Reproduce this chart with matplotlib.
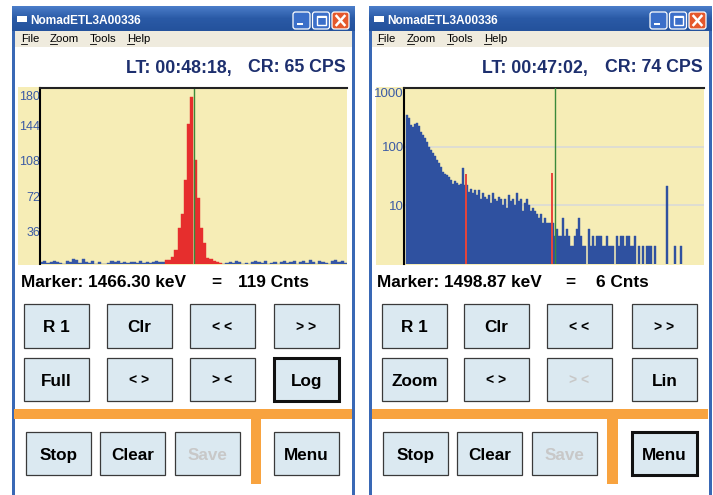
import numpy as np
import matplotlib
matplotlib.use('Agg')
import matplotlib.pyplot as plt
import matplotlib.transforms as mtransforms
from matplotlib.patches import Rectangle, FancyBboxPatch

plt.rcParams['font.family'] = ['Liberation Sans', 'DejaVu Sans']

title_text = 'NomadETL3A00336'
menu_items = ['File', 'Zoom', 'Tools', 'Help']

# left screen: linear scale, 96 channels shown
left_counts = [2, 3, 1, 2, 3, 2, 1,
               0,
               3, 2, 5, 4, 1, 5, 2,
               1, 3, 0, 2,
               0, 0, 1,
               3, 2, 3, 1, 2,
               1, 2, 2, 1, 3, 1, 2, 1, 2, 3, 2, 2,
               4, 4, 7, 14, 37, 51, 86, 143, 171, 106, 67, 37, 21, 6, 5, 3, 2, 1,
               0, 1, 2, 1, 3, 2, 0, 1, 0, 2,
               3, 2, 1, 3, 0, 1, 2, 0, 2, 3, 1, 2, 3,
               0, 2, 3, 1, 4, 2, 0, 3, 2, 1, 0, 3, 4, 2, 3, 1]
left_roi = (39, 57)          # channels drawn in red
left_marker = 48.2
left_ticks = [36, 72, 108, 144, 180]
left_lt, left_cr = 'LT: 00:48:18,', 'CR: 65 CPS'
left_marker_kev, left_marker_cnts = 'Marker: 1466.30 keV', '119 Cnts'

# right screen: log scale, 150 channels shown
right_counts = [0,
                345, 303, 233, 218, 240, 250, 225, 179, 158, 138, 118, 100, 88, 77, 70,
                59, 52, 45, 37, 34, 33, 31, 27, 23, 26, 24, 22, 23, 43, 22, 22, 17, 19,
                16, 18, 15, 18, 13, 16, 14, 13, 15, 11, 16, 13, 12, 14,
                13,
                10, 13, 9, 15, 12, 13, 10, 16, 12, 13, 8, 11, 13, 10, 8, 9, 8, 7, 6, 7,
                5, 6, 5, 5, 5, 5,
                3, 4, 3, 3, 6, 3, 4, 3, 2, 2, 3, 4, 6, 3, 2, 2, 0, 4, 2, 3, 2, 3, 3,
                3, 2, 2, 3, 2, 2, 2, 0, 3, 2, 3, 3, 2, 3, 3, 2, 2, 3, 0, 2, 0, 2, 0, 2,
                2, 2, 0, 2,
                0, 0, 0, 0, 0, 21, 0, 0, 0, 2, 0, 0, 2, 0, 0, 0, 0, 0, 0, 0, 0, 0, 0, 0]
right_roi_lines = [31, 74]
right_roi_heights = [34, 36]
right_marker = 75.25
right_ticks = [10, 100, 1000]
right_lt, right_cr = 'LT: 00:47:02,', 'CR: 74 CPS'
right_marker_kev, right_marker_cnts = 'Marker: 1498.87 keV', '6 Cnts'

left_buttons = [['R 1', 'Clr', '< <', '> >'],
                ['Full', '< >', '> <', 'Log'],
                ['Stop', 'Clear', 'Save', 'Menu']]
right_buttons = [['R 1', 'Clr', '< <', '> >'],
                 ['Zoom', '< >', '> <', 'Lin'],
                 ['Stop', 'Clear', 'Save', 'Menu']]

# ---- colours ----
YELLOW = '#f6edb6'
BLUE = '#2f51a0'
LBLUE = '#3556a6'
RED = '#e62e2d'
GREEN = '#3a8a3a'
ORANGE = '#f8a33f'
BTN = '#dbe9f1'
FRAME = '#3968b5'
NAVY = '#1d2f6e'
TICK = '#3b5ba5'

W, H = 713, 495
fig = plt.figure(figsize=(W / 100, H / 100), dpi=100)
bg = fig.add_axes([0, 0, 1, 1])


def px_axes(x0, y0, x1, y1):
    return fig.add_axes([x0 / W, 1 - y1 / H, (x1 - x0) / W, (y1 - y0) / H])


def button(x0, x1, y0, y1, label, thick=False, grey=False):
    bg.add_patch(Rectangle((x0, y0), x1 - x0, y1 - y0, fc=BTN,
                           ec='#111111' if thick else '#3a3a3a',
                           lw=2.2 if thick else 0.9, zorder=3))
    small = label.startswith('<') or label.startswith('>')
    bg.text((x0 + x1) / 2, (y0 + y1) / 2 + (5 if small else 6.5), label,
            ha='center', va='baseline', fontsize=10 if small else 12.3,
            fontweight='bold', color='#c8c8c8' if grey else 'black', zorder=4)


def window(x0, x1, title_x, menu_x):
    # title bar gradient
    grad = np.linspace(0, 1, 25).reshape(-1, 1)
    bg.imshow(grad, extent=(x0, x1, 31, 6), cmap=matplotlib.colors.LinearSegmentedColormap.from_list(
        'tb', ['#4a7cc8', '#2a5aa6', '#24529c']), aspect='auto', zorder=1)
    # icon
    bg.add_patch(Rectangle((x0 + 5, 16), 10, 6, fc='white', ec='none', zorder=2))
    bg.text(title_x, 24, title_text, color='white', fontsize=8.6, fontweight='bold',
            va='baseline', ha='left', zorder=2)
    # caption buttons
    for k, face in enumerate(['#3b6fc9', '#3b6fc9', '#e5582c']):
        bx = x1 - 62 + k * 19.5
        bg.add_patch(FancyBboxPatch((bx, 12), 17, 17, boxstyle='round,pad=0,rounding_size=2.5',
                                    fc=face, ec='white', lw=0.9, zorder=2))
        if k == 0:
            bg.add_patch(Rectangle((bx + 4, 22.5), 6, 2.5, fc='white', ec='none', zorder=3))
        elif k == 1:
            bg.add_patch(Rectangle((bx + 4, 16), 9, 9, fc='none', ec='white', lw=1.0, zorder=3))
            bg.add_patch(Rectangle((bx + 4, 16), 9, 2, fc='white', ec='none', zorder=3))
        else:
            bg.plot([bx + 4.5, bx + 12.5], [16, 25], color='white', lw=1.8, zorder=3)
            bg.plot([bx + 4.5, bx + 12.5], [25, 16], color='white', lw=1.8, zorder=3)
    # frame sides and menu bar
    bg.add_patch(Rectangle((x0, 31), 3, H - 31, fc=FRAME, ec='none', zorder=1))
    bg.add_patch(Rectangle((x1 - 3, 31), 3, H - 31, fc=FRAME, ec='none', zorder=1))
    bg.add_patch(Rectangle((x0 + 3, 31), x1 - x0 - 6, 16, fc='#efebde', ec='none', zorder=1))
    first_w = {'File': 5.5, 'Zoom': 6.5, 'Tools': 6.0, 'Help': 7.0}
    for item, mx in zip(menu_items, menu_x):
        bg.text(mx, 42, item, fontsize=8.2, va='baseline', ha='left', color='black', zorder=2)
        bg.plot([mx, mx + first_w[item]], [44, 44], color='black', lw=0.6, zorder=2)


window(12, 355, 30, [21, 50, 90, 127])
window(369, 712, 387, [377, 407, 447, 484])

# yellow plot areas
bg.add_patch(Rectangle((18, 87), 329, 178, fc=YELLOW, ec='none', zorder=1))
bg.add_patch(Rectangle((376, 87), 328, 178, fc=YELLOW, ec='none', zorder=1))

# status texts
for lt, cr, x_lt, x_cr in [(left_lt, left_cr, 126, 346), (right_lt, right_cr, 482, 703)]:
    bg.text(x_lt, 72.5, lt, fontsize=12.8, fontweight='bold', color=NAVY, ha='left', va='baseline')
    bg.text(x_cr, 72.5, cr, fontsize=12.8, fontweight='bold', color=NAVY, ha='right', va='baseline')

for kev, cnts, x0, xe, xc in [(left_marker_kev, left_marker_cnts, 21, 216, 238),
                              (right_marker_kev, right_marker_cnts, 377, 570, 596)]:
    bg.text(x0, 287, kev, fontsize=12.4, fontweight='bold', color='black', ha='left', va='baseline')
    bg.text(xe, 287, '=', fontsize=12.4, fontweight='bold', color='black', ha='center', va='baseline')
    bg.text(xc, 287, cnts, fontsize=12.4, fontweight='bold', color='black', ha='left', va='baseline')

# orange separators
for hx0, hx1, vx0, vx1 in [(14, 352, 251, 261), (372, 708, 607, 618)]:
    bg.add_patch(Rectangle((hx0, 409), hx1 - hx0, 10, fc=ORANGE, ec='none', zorder=2))
    bg.add_patch(Rectangle((vx0, 419), vx1 - vx0, 65, fc=ORANGE, ec='none', zorder=2))

# buttons
rows_y = [(304, 348), (358, 401), (432, 475)]
left_cols = [[(24, 89), (107, 172), (190, 255), (274, 339)]] * 2 + \
            [[(26, 91), (100, 165), (175, 240), (274, 339)]]
right_cols = [[(382, 447), (464, 529), (547, 612), (632, 697)]] * 2 + \
             [[(383, 448), (457, 522), (532, 597), (632, 697)]]
for r, (y0, y1) in enumerate(rows_y):
    for c in range(4):
        lab = left_buttons[r][c]
        button(*left_cols[r][c], y0, y1, lab, thick=(lab == 'Log'), grey=(lab == 'Save'))
        lab = right_buttons[r][c]
        button(*right_cols[r][c], y0, y1, lab, thick=(lab == 'Menu'),
               grey=(lab == 'Save' or (r == 1 and c == 2)))

bg.set_xlim(0, W)
bg.set_ylim(H, 0)
bg.axis('off')

# ---- left spectrum (linear) ----
axl = px_axes(40, 88, 347, 264)
ch = np.arange(len(left_counts))
cols = [RED if left_roi[0] <= i < left_roi[1] else LBLUE for i in ch]
axl.bar(ch, left_counts, width=1, align='edge', color=cols, edgecolor=cols, linewidth=0.3)
axl.axvline(left_marker, color=GREEN, lw=1.0)
axl.set_xlim(0, len(left_counts))
axl.set_ylim(0, 180)
axl.set_yticks(left_ticks)
axl.set_xticks([])
axl.tick_params(axis='y', length=0, pad=0, labelsize=9, labelcolor=TICK)
off = mtransforms.ScaledTranslation(0, -2.5 / 100, fig.dpi_scale_trans)
for lab in axl.get_yticklabels():
    lab.set_transform(lab.get_transform() + off)
axl.get_yticklabels()[-1].set_va('top')

# ---- right spectrum (log) ----
axr = px_axes(404, 88, 704, 264)
chr_ = np.arange(len(right_counts))
for g in [10, 100]:
    axr.axhline(g, color='#dcdcd4', lw=1.3, zorder=0)
axr.bar(chr_, right_counts, width=1, align='edge', color=BLUE, edgecolor=BLUE,
        linewidth=0.3, zorder=2)
axr.vlines(right_roi_lines, 1, right_roi_heights, color='#e8443a', lw=1.4, zorder=3)
axr.axvline(right_marker, color=GREEN, lw=1.0, zorder=3)
axr.set_yscale('log')
axr.set_xlim(0, len(right_counts))
axr.set_ylim(1, 1000)
axr.set_yticks(right_ticks)
axr.set_yticklabels([str(t) for t in right_ticks])
axr.minorticks_off()
axr.set_xticks([])
axr.tick_params(axis='y', length=0, pad=0, labelsize=9.5, labelcolor=TICK)
axr.get_yticklabels()[-1].set_va('top')

for ax in (axl, axr):
    ax.set_facecolor('none')
    ax.spines['right'].set_visible(False)
    ax.spines['bottom'].set_visible(False)
    ax.spines['left'].set_linewidth(1.5)
    ax.spines['top'].set_linewidth(1.5)
    ax.spines['left'].set_color('black')
    ax.spines['top'].set_color('#222222')

fig.savefig('out.png', dpi=100, facecolor='white')
